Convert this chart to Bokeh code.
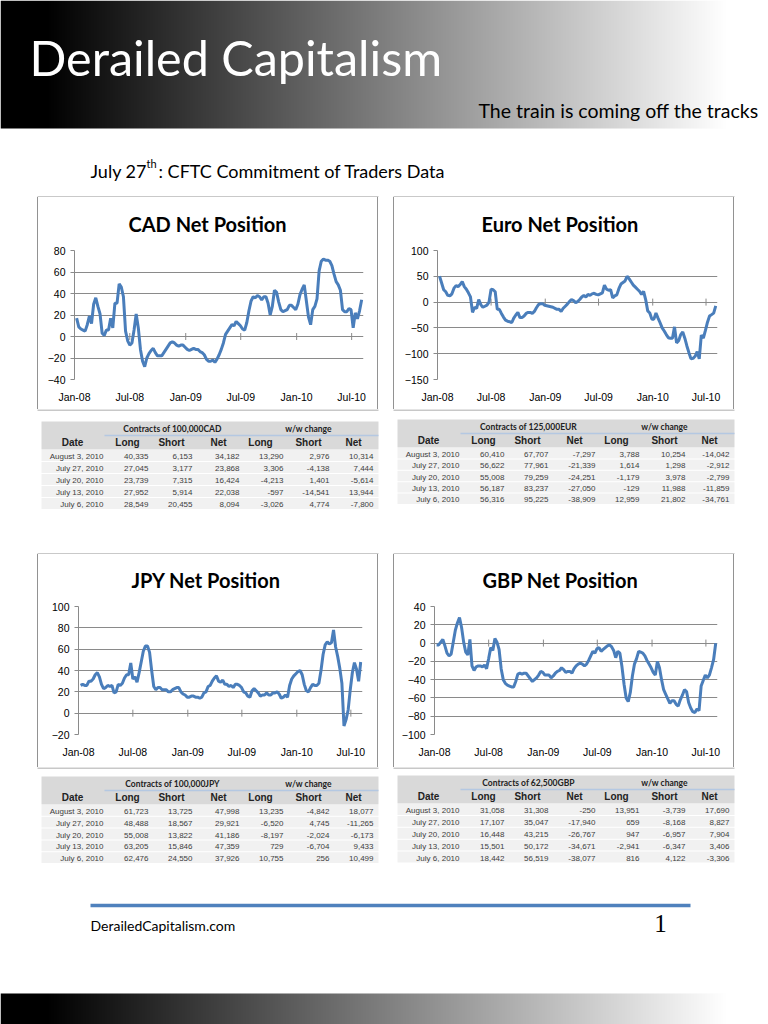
import numpy as np
import pandas as pd
from bokeh.plotting import figure
from bokeh.layouts import column, row
from bokeh.models import Range1d, FixedTicker, DatetimeTickFormatter, Spacer
from bokeh.embed import file_html
from bokeh.resources import INLINE
from bokeh.core.properties import value

# ---------------- data ----------------
# weekly CFTC net positions (thousands of contracts), Tuesdays
first_week = "2008-01-08"
last_week = "2010-08-03"

cad_net = [17, 9, 7, 6, 5, 11, 19, 12, 30, 36,
           28, 21, 3, 1, 6, 6, 17, 8, 31, 31,
           49, 46, 37, 5, -4, -8, -6, 6, 21, 8,
           -12, -23, -28, -20, -16, -13, -11, -15, -18, -18,
           -18, -15, -12, -9, -6, -5, -6, -8, -9, -8,
           -8, -10, -12, -13, -12, -11, -12, -12, -14, -15,
           -17, -21, -23, -23, -22, -24, -21, -17, -12, -6,
           2, 5, 8, 11, 10, 14, 12, 10, 7, 6,
           13, 24, 33, 37, 36, 38, 37, 34, 37, 37,
           31, 20, 28, 43, 41, 32, 25, 23, 24, 25,
           29, 29, 27, 25, 30, 39, 44, 48, 33, 18,
           11, 25, 28, 35, 61, 70, 72, 71, 71, 70,
           66, 58, 51, 48, 43, 25, 23, 23, 26, 25,
           8.1, 22.0, 16.4, 23.9, 34.2]

eur_net = [50, 37, 24, 20, 13, 12, 16, 27, 32, 30,
           34, 40, 30, 25, 18, 10, -20, -10, -12, 5,
           -5, -10, -8, -6, 0, 25, 24, 20, -14, -14,
           -22, -29, -35, -37, -38, -40, -31, -25, -20, -30,
           -30, -27, -22, -20, -20, -22, -18, -11, -5, -3,
           -3, -6, -7, -8, -9, -10, -12, -14, -14, -18,
           -12, -8, -4, 1, 5, 3, -1, 1, 5, 10,
           13, 10, 15, 13, 16, 17, 15, 14, 16, 18,
           33, 25, 23, 24, 8, 12, 14, 26, 35, 38,
           41, 50, 45, 39, 33, 29, 25, 21, 15, 21,
           5, -17, -21, -33, -33, -21, -31, -40, -50, -56,
           -63, -69, -70, -70, -48, -79, -75, -63, -58, -70,
           -85, -98, -110, -109, -105, -96, -110, -64, -70, -55,
           -38.9, -27.1, -24.3, -21.3, -7.3]

jpy_net = [26, 27, 26, 26, 30, 30, 32, 36, 38, 34,
           27, 23, 24, 26, 25, 26, 19, 20, 27, 26,
           28, 33, 36, 36, 47, 32, 34, 29, 38, 48,
           58, 63, 63, 57, 40, 25, 22, 24, 24, 22,
           22, 22, 20, 20, 22, 23, 24, 24, 20, 18,
           17, 15, 15, 16, 16, 15, 15, 14, 15, 19,
           20, 25, 26, 30, 33, 35, 30, 29, 31, 27,
           27, 25, 26, 24, 27, 27, 26, 24, 20, 19,
           16, 15, 21, 23, 21, 19, 16, 17, 17, 19,
           17, 17, 19, 19, 20, 18, 14, 15, 17, 15,
           26, 32, 35, 37, 39, 40, 36, 27, 21, 20,
           24, 27, 26, 26, 28, 40, 55, 64, 67, 65,
           66, 78, 62, 53, 42, 28, -12, -6, 3, 22,
           37.9, 47.4, 41.2, 29.9, 48.0]

gbp_net = [-2, -2, 1, 4, -3, -11, -14, -12, 1, 14,
           22, 28, 17, 1, -10, -13, 4, -25, -30, -26,
           -25, -25, -26, -24, -28, -17, -5, -8, 5, 1,
           -7, -28, -40, -44, -46, -47, -48, -48, -42, -34,
           -33, -34, -33, -33, -36, -39, -42, -40, -38, -35,
           -31, -32, -35, -35, -35, -38, -36, -33, -31, -30,
           -27, -29, -32, -31, -31, -33, -28, -25, -23, -22,
           -23, -25, -23, -19, -14, -9, -11, -6, -5, -9,
           -7, -5, -3, -2, -4, -8, -16, -9, -11, -26,
           -45, -60, -64, -54, -36, -23, -17, -9, -10, -11,
           -14, -19, -23, -27, -32, -35, -20, -27, -40, -51,
           -56, -61, -66, -63, -63, -67, -69, -62, -57, -51,
           -53, -65, -71, -75, -76, -72, -74, -47, -41, -35,
           -38.1, -34.7, -26.8, -17.9, -0.25]

x_tick_dates = ["2008-01-01", "2008-07-01", "2009-01-01", "2009-07-01", "2010-01-01", "2010-07-01"]
x_tick_labels = ["Jan-08", "Jul-08", "Jan-09", "Jul-09", "Jan-10", "Jul-10"]

chart_titles = ["CAD Net Position", "Euro Net Position", "JPY Net Position", "GBP Net Position"]

table_dates = ["August 3, 2010", "July 27, 2010", "July 20, 2010", "July 13, 2010", "July 6, 2010"]
table_headers = ["Date", "Long", "Short", "Net", "Long", "Short", "Net"]
change_header = "w/w change"

cad_unit = "Contracts of 100,000CAD"
cad_long = [40335, 27045, 23739, 27952, 28549]
cad_short = [6153, 3177, 7315, 5914, 20455]
cad_tnet = [34182, 23868, 16424, 22038, 8094]
cad_dlong = [13290, 3306, -4213, -597, -3026]
cad_dshort = [2976, -4138, 1401, -14541, 4774]
cad_dnet = [10314, 7444, -5614, 13944, -7800]

eur_unit = "Contracts of 125,000EUR"
eur_long = [60410, 56622, 55008, 56187, 56316]
eur_short = [67707, 77961, 79259, 83237, 95225]
eur_tnet = [-7297, -21339, -24251, -27050, -38909]
eur_dlong = [3788, 1614, -1179, -129, 12959]
eur_dshort = [10254, 1298, 3978, 11988, 21802]
eur_dnet = [-14042, -2912, -2799, -11859, -34761]

jpy_unit = "Contracts of 100,000JPY"
jpy_long = [61723, 48488, 55008, 63205, 62476]
jpy_short = [13725, 18567, 13822, 15846, 24550]
jpy_tnet = [47998, 29921, 41186, 47359, 37926]
jpy_dlong = [13235, -6520, -8197, 729, 10755]
jpy_dshort = [-4842, 4745, -2024, -6704, 256]
jpy_dnet = [18077, -11265, -6173, 9433, 10499]

gbp_unit = "Contracts of 62,500GBP"
gbp_long = [31058, 17107, 16448, 15501, 18442]
gbp_short = [31308, 35047, 43215, 50172, 56519]
gbp_tnet = [-250, -17940, -26767, -34671, -38077]
gbp_dlong = [13951, 659, 947, -2941, 816]
gbp_dshort = [-3739, -8168, -6957, -6347, 4122]
gbp_dnet = [17690, 8827, 7904, 3406, -3306]

site_title = "Derailed Capitalism"
site_tagline = "The train is coming off the tracks"
subtitle_a = "July 27"
subtitle_sup = "th"
subtitle_b = ": CFTC Commitment of Traders Data"
footer_site = "DerailedCapitalism.com"
page_number = "1"

# ---------------- styles ----------------
CALIBRI = "Lato"
ARIAL = "Liberation Sans"
LINE_BLUE = "#4a7ebb"
GRID = "#8a8a8a"
BOX = "#929292"
PAGE_W = 768


def gradient_img(n, x_left):
    px = x_left + np.arange(n) + 0.5
    t = np.clip((px - 45.0) / 680.0, 0, 1)
    v = (255 * t).astype(np.uint8)
    img = np.zeros((1, n), dtype=np.uint32)
    view = img.view(dtype=np.uint8).reshape((1, n, 4))
    view[..., 0] = v
    view[..., 1] = v
    view[..., 2] = v
    view[..., 3] = 255
    return img


def blank_fig(w, h, x_left, y_top):
    p = figure(width=w, height=h, x_range=Range1d(x_left, x_left + w), y_range=Range1d(y_top + h, y_top),
               output_backend="svg", toolbar_location=None, x_axis_location=None, y_axis_location=None,
               min_border=0)
    p.grid.visible = False
    p.outline_line_color = None
    return p


def chart(title, values, y_lo, y_hi, y_step, w, h, bl, br, bt, bb, title_dx):
    dates = pd.date_range(first_week, last_week, freq="7D")
    p = figure(width=w, height=h, output_backend="svg", toolbar_location=None,
               x_axis_type="datetime",
               x_range=Range1d(pd.Timestamp("2008-01-01"), pd.Timestamp("2010-08-09")),
               y_range=Range1d(y_lo, y_hi),
               min_border_left=bl, min_border_right=br, min_border_top=bt, min_border_bottom=bb,
               title=title)
    p.title.align = "left"
    p.title.offset = title_dx
    p.title.vertical_align = "top"
    p.title.standoff = 26
    p.title.text_font = CALIBRI
    p.title.text_font_style = "bold"
    p.title.text_font_size = "20px"
    p.title.text_color = "black"
    p.outline_line_color = None
    yt = list(range(y_lo, y_hi + 1, y_step))
    p.yaxis.ticker = FixedTicker(ticks=yt)
    p.ygrid.ticker = FixedTicker(ticks=yt)
    p.ygrid.grid_line_color = GRID
    p.xgrid.visible = False
    p.yaxis.axis_line_color = GRID
    p.yaxis.major_tick_line_color = GRID
    p.yaxis.major_tick_out = 4
    p.yaxis.major_tick_in = 0
    p.yaxis.minor_tick_line_color = None
    p.yaxis.major_label_standoff = 5
    p.yaxis.major_label_text_font = ARIAL
    p.yaxis.major_label_text_font_size = "10.5px"
    p.yaxis.major_label_text_color = "black"
    tick_ts = [pd.Timestamp(d) for d in x_tick_dates]
    tick_ms = [float(t.value // 10**6) for t in tick_ts]
    p.xaxis.ticker = FixedTicker(ticks=tick_ms)
    p.xaxis.formatter = DatetimeTickFormatter(months="%b-%y", days="%b-%y", years="%b-%y")
    p.xaxis.major_label_overrides = {ms: lab for ms, lab in zip(tick_ms, x_tick_labels)}
    p.xaxis.axis_line_color = None
    p.xaxis.major_tick_line_color = None
    p.xaxis.minor_tick_line_color = None
    p.xaxis.major_tick_out = 0
    p.xaxis.major_label_standoff = 11
    p.xaxis.major_label_text_font = ARIAL
    p.xaxis.major_label_text_font_size = "10.5px"
    p.xaxis.major_label_text_color = "black"
    p.scatter(x=tick_ts, y=[0] * len(tick_ts), marker="dash", angle=np.pi / 2, size=7,
              line_color=GRID, line_width=1)
    p.line(x=dates, y=values, line_color=LINE_BLUE, line_width=3)
    return p


def draw_table(p, x0, y0, pitch, unit, longs, shorts, nets, dlongs, dshorts, dnets):
    p.quad(left=[x0 + 3], right=[x0 + 340], top=[y0], bottom=[y0 + 28], fill_color="#d9d9d9", line_color=None)
    p.segment(x0=[x0 + 66], y0=[y0 + 14], x1=[x0 + 340], y1=[y0 + 14], line_color="#b4c8e2", line_width=1.5)
    n = len(table_dates)
    tops = [y0 + 28 + pitch * k for k in range(n)]
    p.quad(left=[x0 + 3] * n, right=[x0 + 340] * n, top=[t + 0.5 for t in tops],
           bottom=[t + pitch - 0.5 for t in tops], fill_color="#f1f1f1", line_color=None)
    p.text(x=[x0 + 134, x0 + 270], y=[y0 + 7.5, y0 + 7.5], text=[unit, change_header],
           text_font=value(CALIBRI), text_font_style="bold", text_font_size="8.5px",
           text_align="center", text_baseline="middle", text_color="#222222")
    hx = [34, 89, 133, 180, 222, 270, 315]
    p.text(x=[x0 + v for v in hx], y=[y0 + 21] * 7, text=table_headers,
           text_font=value(ARIAL), text_font_style="bold", text_font_size="10px",
           text_align="center", text_baseline="middle", text_color="#222222")
    ys = [t + pitch / 2 + 1 for t in tops]
    p.text(x=[x0 + 65] * n, y=ys, text=table_dates, text_font=value(ARIAL), text_font_size="8px",
           text_align="right", text_baseline="middle", text_color="#404040")
    cols = [longs, shorts, nets, dlongs, dshorts, dnets]
    cx = [110, 154, 201, 245, 291, 335]
    for c, xr in zip(cols, cx):
        p.text(x=[x0 + xr] * n, y=ys, text=[f"{v:,}" for v in c], text_font=value(ARIAL),
               text_font_size="8px", text_align="right", text_baseline="middle", text_color="#404040")


def box_edges_h(p, y):
    p.segment(x0=[37, 393], y0=[y, y], x1=[378, 734], y1=[y, y], line_color=BOX, line_width=1)


def vline(h):
    return Spacer(width=1, height=h, styles={"background-color": BOX})


def chart_row(left_chart, right_chart, h):
    return row(Spacer(width=37, height=h), vline(h), left_chart, vline(h), Spacer(width=15, height=h),
               vline(h), right_chart, vline(h), Spacer(width=34, height=h))


# ---------------- top ----------------
top = blank_fig(PAGE_W, 197, 0, 0)
top.image_rgba(image=[gradient_img(PAGE_W, 0)], x=0, y=0, dw=PAGE_W, dh=128)
top.text(x=[29], y=[56], text=[site_title], text_font=value(CALIBRI), text_font_size="48.5px",
         text_color="white", text_baseline="middle", text_align="left")
top.text(x=[758], y=[110], text=[site_tagline], text_font=value(CALIBRI), text_font_size="19.5px",
         text_color="black", text_baseline="middle", text_align="right")
top.text(x=[90], y=[170], text=[subtitle_a], text_font=value(CALIBRI), text_font_size="18px",
         text_color="black", text_baseline="middle", text_align="left")
top.text(x=[146], y=[163], text=[subtitle_sup], text_font=value(CALIBRI), text_font_size="11px",
         text_color="black", text_baseline="middle", text_align="left")
top.text(x=[158], y=[170], text=[subtitle_b], text_font=value(CALIBRI), text_font_size="18px",
         text_color="black", text_baseline="middle", text_align="left")
box_edges_h(top, 196.5)

# ---------------- charts ----------------
cad = chart(chart_titles[0], cad_net, -40, 80, 20, 339, 212, 36, 14, 53, 30, 54)
eur = chart(chart_titles[1], eur_net, -150, 100, 50, 339, 212, 43, 16, 53, 28, 44)
jpy = chart(chart_titles[2], jpy_net, -20, 100, 20, 339, 213, 40, 15, 52, 33, 53)
gbp = chart(chart_titles[3], gbp_net, -100, 40, 20, 339, 213, 40, 16, 52, 32, 48)

row1 = chart_row(cad, eur, 212)
row2 = chart_row(jpy, gbp, 213)

# ---------------- middle (tables 1) ----------------
mid = blank_fig(PAGE_W, 145, 0, 409)
box_edges_h(mid, 409.5)
box_edges_h(mid, 553.5)
draw_table(mid, 38, 421, 12.0, cad_unit, cad_long, cad_short, cad_tnet, cad_dlong, cad_dshort, cad_dnet)
draw_table(mid, 394, 419, 11.4, eur_unit, eur_long, eur_short, eur_tnet, eur_dlong, eur_dshort, eur_dnet)

# ---------------- bottom (tables 2 + footer) ----------------
bot = blank_fig(PAGE_W, 257, 0, 767)
box_edges_h(bot, 767.5)
draw_table(bot, 38, 776, 11.8, jpy_unit, jpy_long, jpy_short, jpy_tnet, jpy_dlong, jpy_dshort, jpy_dnet)
draw_table(bot, 394, 775, 11.9, gbp_unit, gbp_long, gbp_short, gbp_tnet, gbp_dlong, gbp_dshort, gbp_dnet)
bot.segment(x0=[90], y0=[905], x1=[690], y1=[905], line_color="#4f81bd", line_width=3.5)
bot.text(x=[90], y=[925], text=[footer_site], text_font=value(CALIBRI), text_font_size="14px",
         text_color="black", text_baseline="middle", text_align="left")
bot.text(x=[660], y=[923], text=[page_number], text_font=value("Liberation Serif"), text_font_size="25px",
         text_color="black", text_baseline="middle", text_align="center")
bot.image_rgba(image=[gradient_img(PAGE_W, 0)], x=0, y=993, dw=PAGE_W, dh=31)

page = column(top, row1, mid, row2, bot)
open("out.html", "w").write(file_html(page, INLINE))
